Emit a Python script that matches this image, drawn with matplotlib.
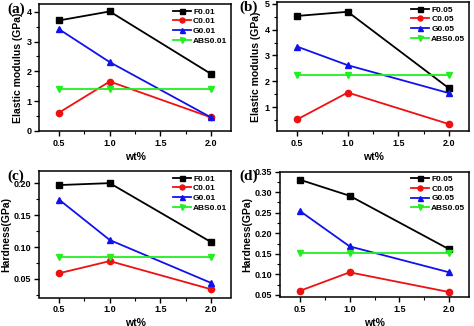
import matplotlib
matplotlib.use("Agg")
import matplotlib.pyplot as plt
from matplotlib.ticker import AutoMinorLocator

plt.rcParams['font.family'] = ['Liberation Sans', 'DejaVu Sans']
plt.rcParams['font.weight'] = 'bold'

wt = [0.5, 1.0, 2.0]

# (a) elastic modulus, 0.01
F001_E = [3.71, 4.01, 1.92]
C001_E = [0.62, 1.66, 0.46]
G001_E = [3.41, 2.31, 0.46]
ABS001_E = [1.41, 1.41, 1.41]

# (b) elastic modulus, 0.05
F005_E = [4.53, 4.69, 1.73]
C005_E = [0.52, 1.56, 0.34]
G005_E = [3.34, 2.62, 1.54]
ABS005_E = [2.25, 2.25, 2.25]

# (c) hardness, 0.01
F001_H = [0.197, 0.200, 0.108]
C001_H = [0.059, 0.078, 0.034]
G001_H = [0.174, 0.111, 0.044]
ABS001_H = [0.084, 0.084, 0.084]

# (d) hardness, 0.05
F005_H = [0.330, 0.291, 0.161]
C005_H = [0.060, 0.105, 0.057]
G005_H = [0.254, 0.168, 0.105]
ABS005_H = [0.153, 0.153, 0.153]

colors = ['black', '#ee1111', '#1111ee', '#22ee22']
markers = ['s', 'o', '^', 'v']

panels = [
    ("(a)", [F001_E, C001_E, G001_E, ABS001_E], ["F0.01", "C0.01", "G0.01", "ABS0.01"],
     "Elastic modulus (GPa)", (0, 4.26), [0, 1, 2, 3, 4], "%d",
     [39, 231, 4, 131]),
    ("(b)", [F005_E, C005_E, G005_E, ABS005_E], ["F0.05", "C0.05", "G0.05", "ABS0.05"],
     "Elastic modulus (GPa)", (0.07, 5.07), [1, 2, 3, 4, 5], "%d",
     [277, 469, 2, 131]),
    ("(c)", [F001_H, C001_H, G001_H, ABS001_H], ["F0.01", "C0.01", "G0.01", "ABS0.01"],
     "Hardness(GPa)", (0.021, 0.219), [0.05, 0.10, 0.15, 0.20], "%.2f",
     [39, 231, 171, 297.5]),
    ("(d)", [F005_H, C005_H, G005_H, ABS005_H], ["F0.05", "C0.05", "G0.05", "ABS0.05"],
     "Hardness(GPa)", (0.045, 0.35), [0.05, 0.10, 0.15, 0.20, 0.25, 0.30, 0.35], "%.2f",
     [280, 469, 171.5, 297]),
]

W, H = 474, 326
fig = plt.figure(figsize=(W / 100, H / 100), dpi=100)

for lab, series, names, ylab, ylim, yt, fmt, box in panels:
    l, r, t, b = box
    ax = fig.add_axes([l / W, 1 - b / H, (r - l) / W, (b - t) / H])
    for ys, nm, c, m in zip(series, names, colors, markers):
        ax.plot(wt, ys, color=c, marker=m, markersize=4.5, linewidth=1.3, label=nm)
    ax.set_xlim(0.3, 2.2)
    ax.set_ylim(*ylim)
    ax.set_xticks([0.5, 1.0, 1.5, 2.0])
    ax.set_xticklabels(["0.5", "1.0", "1.5", "2.0"])
    ax.set_yticks(yt)
    ax.set_yticklabels([fmt % v for v in yt])
    ax.xaxis.set_minor_locator(AutoMinorLocator(2))
    ax.yaxis.set_minor_locator(AutoMinorLocator(2))
    ax.tick_params(which='major', direction='out', length=3.5, width=1, labelsize=6.5, pad=2)
    ax.tick_params(which='minor', direction='out', length=2, width=0.8)
    for s in ax.spines.values():
        s.set_linewidth(1.1)
    ax.set_ylabel(ylab, fontsize=7.5, fontweight='bold', labelpad=2)
    ax.set_xlabel("wt%", fontsize=7.5, fontweight='bold', labelpad=3)
    leg = ax.legend(loc='upper right', frameon=False, handlelength=2.2, markerscale=0.8,
                    handletextpad=0.25, labelspacing=0.22, borderaxespad=0.15, borderpad=0.3,
                    prop={'weight': 'bold', 'size': 6})
    lx = 7 if l < 100 else 239
    ly = t + 5
    fig.text(lx / W, 1 - ly / H, lab, fontsize=11, fontweight='bold',
             family=['Liberation Serif', 'DejaVu Serif'], va='center', ha='left')

fig.savefig("out.png", dpi=100)
